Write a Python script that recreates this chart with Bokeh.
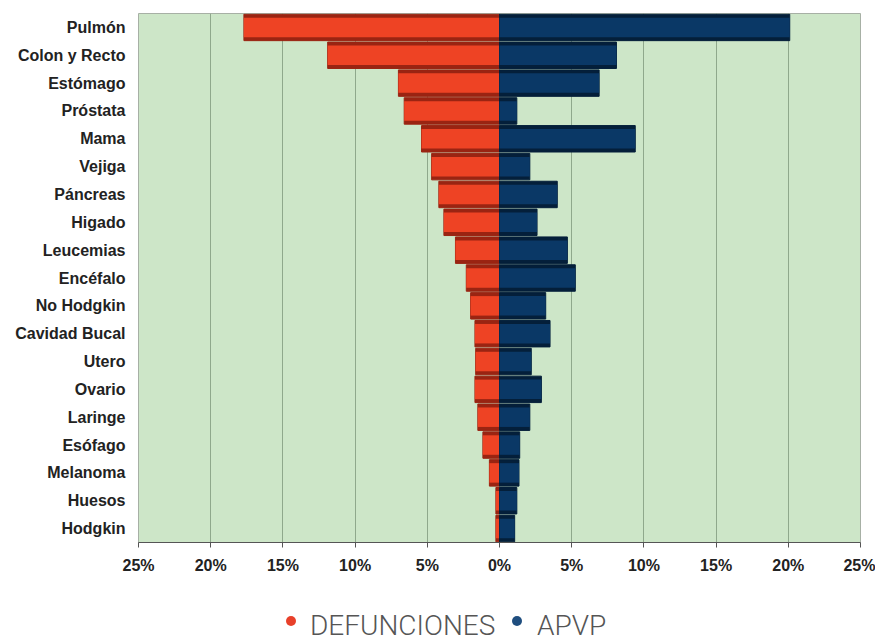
from bokeh.plotting import figure
from bokeh.models import FactorRange, Range1d, FixedTicker, CustomJSTickFormatter, ColumnDataSource, Div
from bokeh.layouts import column
from bokeh.embed import file_html
from bokeh.resources import INLINE

# Tumour sites, top to bottom
sites = ["Pulmón", "Colon y Recto", "Estómago", "Próstata", "Mama", "Vejiga",
         "Páncreas", "Higado", "Leucemias", "Encéfalo", "No Hodgkin",
         "Cavidad Bucal", "Utero", "Ovario", "Laringe", "Esófago",
         "Melanoma", "Huesos", "Hodgkin"]

# Share of deaths (%) - drawn to the left
defunciones = [17.7, 11.9, 7.0, 6.6, 5.4, 4.7, 4.2, 3.85, 3.05, 2.3, 2.0,
               1.7, 1.65, 1.7, 1.5, 1.15, 0.7, 0.25, 0.25]
# Share of potential years of life lost (%) - drawn to the right
apvp = [20.1, 8.1, 6.9, 1.2, 9.4, 2.1, 4.0, 2.6, 4.7, 5.25, 3.2,
        3.5, 2.2, 2.9, 2.1, 1.4, 1.35, 1.2, 1.05]

tick_values = [-25, -20, -15, -10, -5, 0, 5, 10, 15, 20, 25]

src = ColumnDataSource(dict(
    site=sites,
    def_left=[-v for v in defunciones],
    apvp=apvp,
    zero=[0] * len(sites),
))

RED = "#EE4324"
RED_EDGE = "#9A2412"
BLUE = "#0A3866"
BLUE_EDGE = "#041F3A"

p = figure(width=875, height=590,
           y_range=FactorRange(factors=list(reversed(sites))),
           x_range=Range1d(-25, 25),
           output_backend="svg", toolbar_location=None,
           min_border_left=138, min_border_right=15,
           min_border_top=13, min_border_bottom=48)

p.background_fill_color = "#CDE6C8"
p.border_fill_color = "white"
p.outline_line_color = "#A7B0A5"

# deaths bars (left), shaded edge + bright body
p.hbar(y="site", left="def_left", right="zero", height=0.95, source=src,
       fill_color=RED_EDGE, line_color=RED_EDGE, line_width=1)
p.hbar(y="site", left="def_left", right="zero", height=0.7, source=src,
       fill_color=RED, line_color=None)

# APVP bars (right)
p.hbar(y="site", left="zero", right="apvp", height=0.95, source=src,
       fill_color=BLUE_EDGE, line_color=BLUE_EDGE, line_width=1)
p.hbar(y="site", left="zero", right="apvp", height=0.7, source=src,
       fill_color=BLUE, line_color=None)

# x axis: absolute percentages on both sides
p.xaxis.ticker = FixedTicker(ticks=tick_values)
p.xaxis.formatter = CustomJSTickFormatter(code="return Math.abs(tick) + '%';")
p.xaxis.axis_line_color = "#555555"
p.xaxis.major_tick_line_color = "#555555"
p.xaxis.major_tick_out = 5
p.xaxis.major_tick_in = 0
p.xaxis.minor_tick_line_color = None
p.xaxis.major_label_standoff = 9
p.xaxis.major_label_text_font = "Liberation Sans"
p.xaxis.major_label_text_font_style = "bold"
p.xaxis.major_label_text_font_size = "16px"
p.xaxis.major_label_text_color = "#222222"

p.xgrid.ticker = FixedTicker(ticks=tick_values)
p.xgrid.grid_line_color = "#8FA88C"
p.xgrid.grid_line_width = 1
p.ygrid.visible = False

p.yaxis.axis_line_color = None
p.yaxis.major_tick_line_color = None
p.yaxis.minor_tick_line_color = None
p.yaxis.major_tick_out = 0
p.yaxis.major_label_standoff = 13
p.yaxis.major_label_text_font = "Liberation Sans"
p.yaxis.major_label_text_font_style = "bold"
p.yaxis.major_label_text_font_size = "16px"
p.yaxis.major_label_text_color = "#222222"

# legend row under the chart
legend_html = """
<div style="position:relative;width:875px;height:51px;font-family:Roboto,'Open Sans',sans-serif;
            font-weight:300;font-size:28px;line-height:28px;color:#555555;">
  <span style="position:absolute;left:286px;top:26px;width:10px;height:10px;border-radius:50%;background:#E8402A;"></span>
  <span style="position:absolute;left:310px;top:22px;white-space:nowrap;">DEFUNCIONES</span>
  <span style="position:absolute;left:512px;top:26px;width:10px;height:10px;border-radius:50%;background:#1F4E7F;"></span>
  <span style="position:absolute;left:537px;top:22px;white-space:nowrap;">APVP</span>
</div>
"""
legend = Div(text=legend_html, width=875, height=51, margin=(0, 0, 0, 0))

layout = column(p, legend, spacing=0)

open("out.html", "w").write(file_html(layout, INLINE))
